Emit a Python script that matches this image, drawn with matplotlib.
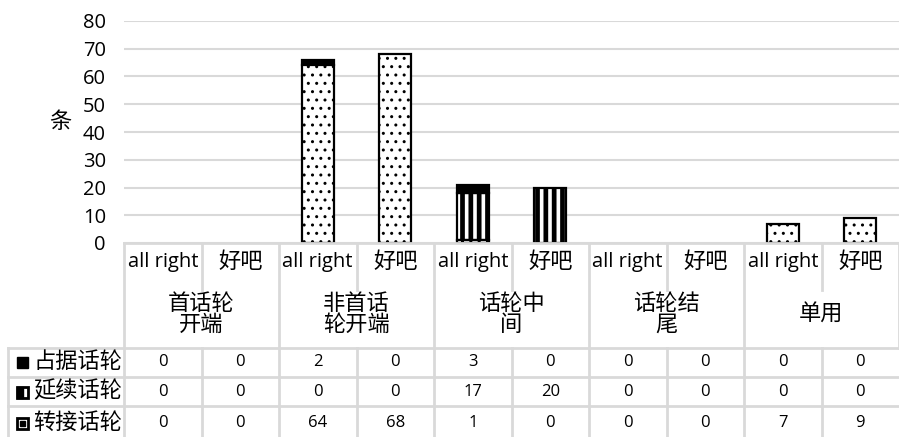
import numpy as np
import matplotlib.pyplot as plt
from matplotlib.patches import Rectangle

plt.rcParams['font.family'] = ['Open Sans', 'Noto Sans CJK SC', 'DejaVu Sans']

# data
sub_labels = ['all right', '好吧'] * 5
groups = ['首话轮\n开端', '非首话\n轮开端', '话轮中\n间', '话轮结\n尾', '单用']
series = ['占据话轮', '延续话轮', '转接话轮']
zhanju = np.array([0, 0, 2, 0, 3, 0, 0, 0, 0, 0])
yanxu = np.array([0, 0, 0, 0, 17, 20, 0, 0, 0, 0])
zhuanjie = np.array([0, 0, 64, 68, 1, 0, 0, 0, 7, 9])
values = [zhanju, yanxu, zhuanjie]

W, H = 899, 437
grid_c = '#d9d9d9'
fig = plt.figure(figsize=(W / 100, H / 100), dpi=100)

# bar area
ax = fig.add_axes([124 / W, (H - 243) / H, (W - 124) / W, (243 - 21) / H])
x = np.arange(10) + 0.5
width = 0.41

def draw(vals, bottom, face, hatch, hlw):
    plt.rcParams['hatch.linewidth'] = hlw
    m = vals > 0
    ax.bar(x[m], vals[m], width, bottom=bottom[m], color=face,
           edgecolor='black', linewidth=1.6, hatch=hatch, zorder=3)

zero = np.zeros(10, dtype=int)
draw(yanxu, zhuanjie, 'white', '||', 3.4)
draw(zhanju, zhuanjie + yanxu, 'black', None, 1.0)
draw(zhuanjie, zero, 'white', '..', 1.0)

ax.set_xlim(0, 10)
ax.set_ylim(0, 80)
ax.set_yticks(range(0, 81, 10))
ax.set_xticks([])
ax.tick_params(axis='y', length=0, pad=13, labelsize=14.5)
ax.grid(axis='y', color=grid_c, linewidth=1.5, zorder=0)
for s in ax.spines.values():
    s.set_visible(False)
fig.text(60 / W, 1 - 123 / H, '条', fontsize=16, ha='center', va='center')

# data table below, in pixel-like units
tax = fig.add_axes([0, 0, 1, (H - 243) / H])
tax.set_xlim(-124 / 77.5, 10)
tax.set_ylim(437, 243)
tax.axis('off')
px = lambda p: (p - 124) / 77.5
kw = dict(color=grid_c, linewidth=2, clip_on=False)

tax.plot([0, 10], [243, 243], **kw)
for i in range(11):
    if i % 2 == 0:
        tax.plot([i, i], [243, 348], **kw)
    else:
        tax.plot([i, i], [243, 290], **kw)
    if i < 10:
        tax.plot([i, i], [348, 437], **kw)
for yy in [348, 377, 406]:
    tax.plot([px(8), 10], [yy, yy], **kw)
tax.plot([px(8), px(8)], [348, 437], **kw)

for i, lab in enumerate(sub_labels):
    fs = 14.5 if lab == 'all right' else 16
    tax.text(i + 0.5, 262, lab, ha='center', va='center', fontsize=fs)
for g, lab in enumerate(groups):
    tax.text(2 * g + 1, 315, lab, ha='center', va='center', fontsize=16,
             linespacing=1.0)

row_y = [362, 392, 423]
for r, name in enumerate(series):
    y = row_y[r]
    tax.text(px(33), y, name, ha='left', va='center', fontsize=16)
    for i, v in enumerate(values[r]):
        tax.text(i + 0.5, y, str(v), ha='center', va='center', fontsize=12)

# legend keys
k = 11 / 77.5
y0 = [row_y[0] + 5.5, row_y[1] + 5.5, row_y[2] + 5.5]
tax.add_patch(Rectangle((px(17), y0[0]), k, -11, facecolor='black',
                        edgecolor='black', clip_on=False))
tax.add_patch(Rectangle((px(17), y0[1]), k, -11, facecolor='white',
                        edgecolor='black', linewidth=2, clip_on=False))
tax.add_patch(Rectangle((px(17), y0[1]), k / 2, -11, facecolor='black',
                        edgecolor='black', clip_on=False))
tax.add_patch(Rectangle((px(17), y0[2]), k, -11, facecolor='white',
                        edgecolor='black', linewidth=2, clip_on=False))
tax.add_patch(Rectangle((px(17) + 0.3 * k, y0[2] - 3), 0.4 * k, -5,
                        facecolor='black', edgecolor='black', clip_on=False))

fig.savefig('out.png', dpi=100)
